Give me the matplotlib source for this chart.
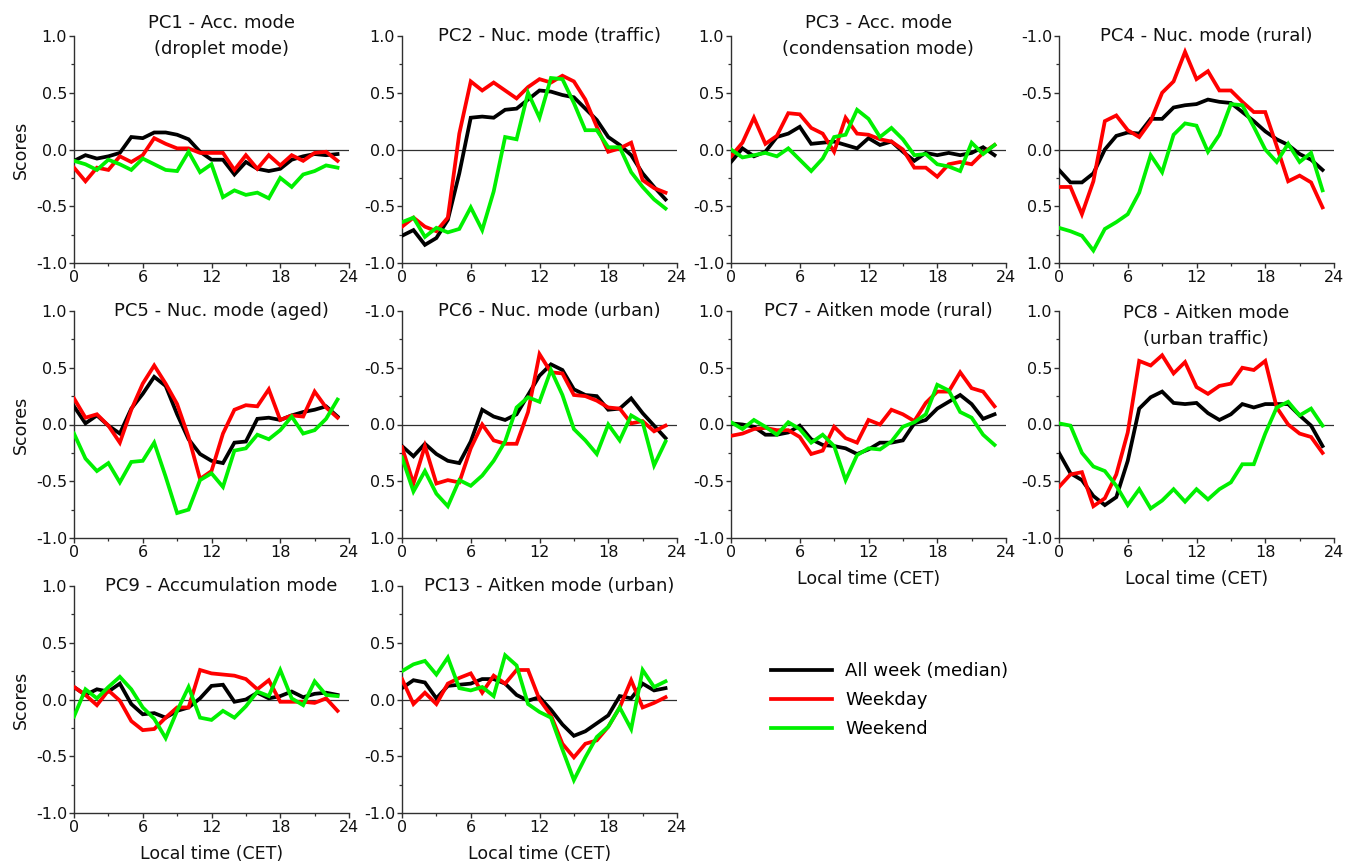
import matplotlib
matplotlib.use("Agg")
import matplotlib.pyplot as plt
from matplotlib.lines import Line2D
from matplotlib.ticker import MultipleLocator, FormatStrFormatter

plt.rcParams['font.family'] = ['DejaVu Sans']
plt.rcParams['axes.unicode_minus'] = False

hours = list(range(24))

# Diurnal cycles of principal component scores: all week (median), weekday, weekend
pc1_all = [-0.10, -0.05, -0.08, -0.06, -0.03, 0.11, 0.10, 0.15, 0.15, 0.13, 0.09, -0.02,
           -0.09, -0.09, -0.22, -0.11, -0.17, -0.19, -0.17, -0.09, -0.06, -0.04, -0.05, -0.04]
pc1_wd = [-0.16, -0.28, -0.16, -0.18, -0.06, -0.11, -0.05, 0.10, 0.05, 0.01, 0.01, -0.03,
          -0.03, -0.03, -0.18, -0.05, -0.17, -0.05, -0.14, -0.05, -0.10, -0.03, -0.02, -0.10]
pc1_we = [-0.10, -0.13, -0.18, -0.09, -0.13, -0.18, -0.08, -0.13, -0.18, -0.19, -0.02, -0.20,
          -0.13, -0.42, -0.36, -0.40, -0.38, -0.43, -0.25, -0.33, -0.22, -0.19, -0.14, -0.16]

pc2_all = [-0.76, -0.71, -0.84, -0.78, -0.62, -0.21, 0.28, 0.29, 0.28, 0.35, 0.36, 0.44,
           0.52, 0.51, 0.48, 0.46, 0.36, 0.26, 0.11, 0.04, -0.05, -0.21, -0.33, -0.44]
pc2_wd = [-0.68, -0.60, -0.68, -0.72, -0.60, 0.14, 0.60, 0.52, 0.59, 0.52, 0.45, 0.55,
          0.62, 0.59, 0.65, 0.60, 0.44, 0.20, -0.02, 0.01, 0.06, -0.27, -0.34, -0.38]
pc2_we = [-0.64, -0.60, -0.77, -0.69, -0.73, -0.70, -0.51, -0.71, -0.37, 0.11, 0.09, 0.50,
          0.28, 0.63, 0.62, 0.41, 0.17, 0.17, 0.02, 0.02, -0.20, -0.33, -0.44, -0.52]

pc3_all = [-0.11, 0.01, -0.06, -0.02, 0.11, 0.14, 0.20, 0.05, 0.06, 0.07, 0.04, 0.01,
           0.10, 0.04, 0.07, -0.02, -0.10, -0.03, -0.05, -0.03, -0.05, -0.03, 0.02, -0.05]
pc3_wd = [-0.06, 0.06, 0.28, 0.05, 0.12, 0.32, 0.31, 0.19, 0.14, -0.02, 0.28, 0.14,
          0.13, 0.09, 0.07, 0.00, -0.16, -0.16, -0.24, -0.13, -0.11, -0.13, -0.03, 0.04]
pc3_we = [0.00, -0.07, -0.05, -0.03, -0.06, 0.01, -0.09, -0.19, -0.08, 0.11, 0.13, 0.35,
          0.27, 0.11, 0.19, 0.09, -0.05, -0.04, -0.13, -0.15, -0.19, 0.06, -0.04, 0.04]

pc4_all = [0.18, 0.29, 0.29, 0.21, 0.00, -0.12, -0.15, -0.14, -0.27, -0.27, -0.37, -0.39,
           -0.40, -0.44, -0.42, -0.41, -0.33, -0.25, -0.16, -0.09, -0.04, 0.04, 0.09, 0.18]
pc4_wd = [0.33, 0.33, 0.57, 0.28, -0.25, -0.30, -0.17, -0.11, -0.25, -0.50, -0.60, -0.86,
          -0.62, -0.69, -0.52, -0.52, -0.42, -0.33, -0.33, -0.03, 0.28, 0.23, 0.29, 0.51]
pc4_we = [0.69, 0.72, 0.76, 0.89, 0.70, 0.64, 0.57, 0.38, 0.05, 0.20, -0.13, -0.23,
          -0.21, 0.02, -0.13, -0.40, -0.39, -0.20, 0.00, 0.11, -0.05, 0.11, 0.03, 0.36]

pc5_all = [0.16, 0.01, 0.08, -0.01, -0.08, 0.14, 0.27, 0.42, 0.34, 0.09, -0.13, -0.26,
           -0.32, -0.34, -0.16, -0.15, 0.05, 0.06, 0.04, 0.08, 0.11, 0.13, 0.16, 0.07]
pc5_wd = [0.23, 0.06, 0.09, -0.01, -0.16, 0.13, 0.36, 0.52, 0.36, 0.18, -0.11, -0.48,
          -0.41, -0.08, 0.13, 0.17, 0.16, 0.31, 0.04, 0.08, 0.07, 0.29, 0.15, 0.06]
pc5_we = [-0.08, -0.30, -0.41, -0.34, -0.51, -0.33, -0.32, -0.16, -0.46, -0.78, -0.75, -0.49,
          -0.43, -0.55, -0.23, -0.21, -0.09, -0.13, -0.05, 0.07, -0.08, -0.05, 0.05, 0.22]

pc6_all = [0.19, 0.28, 0.17, 0.26, 0.32, 0.34, 0.15, -0.13, -0.07, -0.04, -0.09, -0.26,
           -0.43, -0.53, -0.48, -0.31, -0.26, -0.25, -0.13, -0.14, -0.23, -0.10, 0.01, 0.12]
pc6_wd = [0.20, 0.52, 0.19, 0.52, 0.49, 0.51, 0.21, 0.00, 0.14, 0.17, 0.17, -0.11,
          -0.62, -0.46, -0.45, -0.26, -0.25, -0.21, -0.15, -0.14, -0.01, -0.03, 0.06, 0.01]
pc6_we = [0.29, 0.59, 0.41, 0.61, 0.72, 0.49, 0.54, 0.45, 0.32, 0.15, -0.15, -0.24,
          -0.20, -0.48, -0.26, 0.04, 0.14, 0.26, 0.00, 0.14, -0.08, -0.02, 0.36, 0.15]

pc7_all = [0.01, 0.00, -0.02, -0.09, -0.09, -0.07, -0.01, -0.13, -0.18, -0.19, -0.21, -0.26,
           -0.22, -0.16, -0.16, -0.14, 0.01, 0.04, 0.14, 0.20, 0.26, 0.18, 0.05, 0.09]
pc7_wd = [-0.10, -0.08, -0.04, -0.03, -0.05, -0.05, -0.11, -0.26, -0.23, -0.02, -0.12, -0.16,
          0.04, 0.00, 0.13, 0.09, 0.03, 0.19, 0.29, 0.29, 0.46, 0.32, 0.29, 0.16]
pc7_we = [0.02, -0.04, 0.04, -0.02, -0.09, 0.02, -0.04, -0.16, -0.09, -0.19, -0.49, -0.27,
          -0.21, -0.22, -0.15, -0.02, 0.02, 0.09, 0.35, 0.30, 0.11, 0.06, -0.09, -0.18]

pc8_all = [-0.25, -0.43, -0.49, -0.63, -0.71, -0.64, -0.32, 0.14, 0.24, 0.29, 0.19, 0.18,
           0.19, 0.10, 0.04, 0.09, 0.18, 0.15, 0.18, 0.18, 0.18, 0.08, -0.01, -0.19]
pc8_wd = [-0.55, -0.44, -0.42, -0.72, -0.65, -0.44, -0.07, 0.56, 0.52, 0.61, 0.45, 0.55,
          0.33, 0.27, 0.34, 0.36, 0.50, 0.48, 0.56, 0.15, 0.00, -0.08, -0.11, -0.25]
pc8_we = [0.01, -0.01, -0.25, -0.37, -0.41, -0.54, -0.71, -0.57, -0.74, -0.67, -0.57, -0.68,
          -0.57, -0.66, -0.57, -0.51, -0.35, -0.35, -0.08, 0.15, 0.20, 0.08, 0.14, -0.01]

pc9_all = [0.11, 0.04, 0.09, 0.07, 0.14, -0.04, -0.13, -0.12, -0.16, -0.10, -0.07, 0.01,
           0.12, 0.13, -0.02, 0.00, 0.06, 0.01, 0.03, 0.07, 0.02, 0.05, 0.06, 0.04]
pc9_wd = [0.11, 0.04, -0.05, 0.08, -0.01, -0.19, -0.27, -0.26, -0.16, -0.07, -0.07, 0.26,
          0.23, 0.22, 0.21, 0.18, 0.09, 0.17, -0.02, -0.02, -0.02, -0.03, 0.01, -0.10]
pc9_we = [-0.15, 0.09, 0.01, 0.11, 0.20, 0.09, -0.07, -0.17, -0.34, -0.10, 0.11, -0.16,
          -0.18, -0.10, -0.16, -0.06, 0.07, 0.03, 0.26, 0.01, -0.05, 0.16, 0.04, 0.03]

pc13_all = [0.10, 0.17, 0.15, 0.01, 0.12, 0.13, 0.14, 0.18, 0.18, 0.14, 0.04, -0.01,
            0.02, -0.09, -0.22, -0.32, -0.28, -0.21, -0.14, 0.03, 0.01, 0.14, 0.08, 0.10]
pc13_wd = [0.18, -0.04, 0.06, -0.04, 0.14, 0.19, 0.23, 0.06, 0.21, 0.14, 0.26, 0.26,
           0.00, -0.14, -0.39, -0.51, -0.39, -0.36, -0.24, -0.07, 0.17, -0.07, -0.03, 0.02]
pc13_we = [0.25, 0.31, 0.34, 0.22, 0.37, 0.10, 0.08, 0.11, 0.03, 0.39, 0.30, -0.04,
           -0.11, -0.16, -0.44, -0.71, -0.51, -0.33, -0.24, -0.07, -0.26, 0.26, 0.11, 0.16]

titles = ["PC1 - Acc. mode\n(droplet mode)", "PC2 - Nuc. mode (traffic)",
          "PC3 - Acc. mode\n(condensation mode)", "PC4 - Nuc. mode (rural)",
          "PC5 - Nuc. mode (aged)", "PC6 - Nuc. mode (urban)",
          "PC7 - Aitken mode (rural)", "PC8 - Aitken mode\n(urban traffic)",
          "PC9 - Accumulation mode", "PC13 - Aitken mode (urban)"]
series = [(pc1_all, pc1_wd, pc1_we), (pc2_all, pc2_wd, pc2_we), (pc3_all, pc3_wd, pc3_we),
          (pc4_all, pc4_wd, pc4_we), (pc5_all, pc5_wd, pc5_we), (pc6_all, pc6_wd, pc6_we),
          (pc7_all, pc7_wd, pc7_we), (pc8_all, pc8_wd, pc8_we), (pc9_all, pc9_wd, pc9_we),
          (pc13_all, pc13_wd, pc13_we)]
inverted = [False, False, False, True, False, True, False, False, False, False]
legend_labels = ["All week (median)", "Weekday", "Weekend"]
colors = ["#000000", "#ff0000", "#00f000"]
x_ticks = [0, 6, 12, 18, 24]

W, H = 1345, 864
fig = plt.figure(figsize=(W / 100, H / 100), dpi=100)

lefts = [74, 402, 731, 1059]
tops = [36, 311, 586]
aw, ah = 275, 227
axis_col = "#303030"

for i, (title, data) in enumerate(zip(titles, series)):
    row, col = divmod(i, 4)
    ax = fig.add_axes([lefts[col] / W, (H - tops[row] - ah) / H, aw / W, ah / H])
    ax.axhline(0, color=axis_col, lw=0.9, zorder=1)
    for vals, c in zip(data, colors):
        ax.plot(hours, vals, color=c, lw=2.7, solid_joinstyle='miter', zorder=3)
    ax.set_xlim(0, 24)
    if inverted[i]:
        ax.set_ylim(1, -1)
    else:
        ax.set_ylim(-1, 1)
    ax.set_xticks(x_ticks)
    ax.xaxis.set_minor_locator(MultipleLocator(3))
    ax.yaxis.set_major_locator(MultipleLocator(0.5))
    ax.yaxis.set_minor_locator(MultipleLocator(0.25))
    ax.yaxis.set_major_formatter(FormatStrFormatter('%.1f'))
    for s in ['top', 'right']:
        ax.spines[s].set_visible(False)
    for s in ['left', 'bottom']:
        ax.spines[s].set_color(axis_col)
        ax.spines[s].set_linewidth(1.0)
    ax.tick_params(which='major', direction='out', length=3.5, width=1.0, pad=1.5,
                   labelsize=11.5, color=axis_col, labelcolor='#111111')
    ax.tick_params(which='minor', direction='out', length=2.0, width=0.9, color=axis_col)
    # PC8's two-line title hangs below the top edge; the others are centred on it
    ty = 1.0 - 15 / ah if i == 7 else 1.0
    ax.text(0.535, ty, title, transform=ax.transAxes, ha='center', va='center',
            fontsize=13, linespacing=1.6, color='#111111')
    if col == 0:
        ax.set_ylabel("Scores", fontsize=12.5, labelpad=4, color='#111111')
    if i >= 6:
        ax.set_xlabel("Local time (CET)", fontsize=12.5, labelpad=7, color='#111111')

handles = [Line2D([], [], color=c, lw=2.7) for c in colors]
fig.legend(handles, legend_labels, loc='upper left',
           bbox_to_anchor=(771 / W, 1 - 662 / H), frameon=False, fontsize=13,
           borderpad=0, borderaxespad=0, handlelength=3.4, handletextpad=0.7,
           labelspacing=0.62)

fig.savefig("out.png", dpi=100)
